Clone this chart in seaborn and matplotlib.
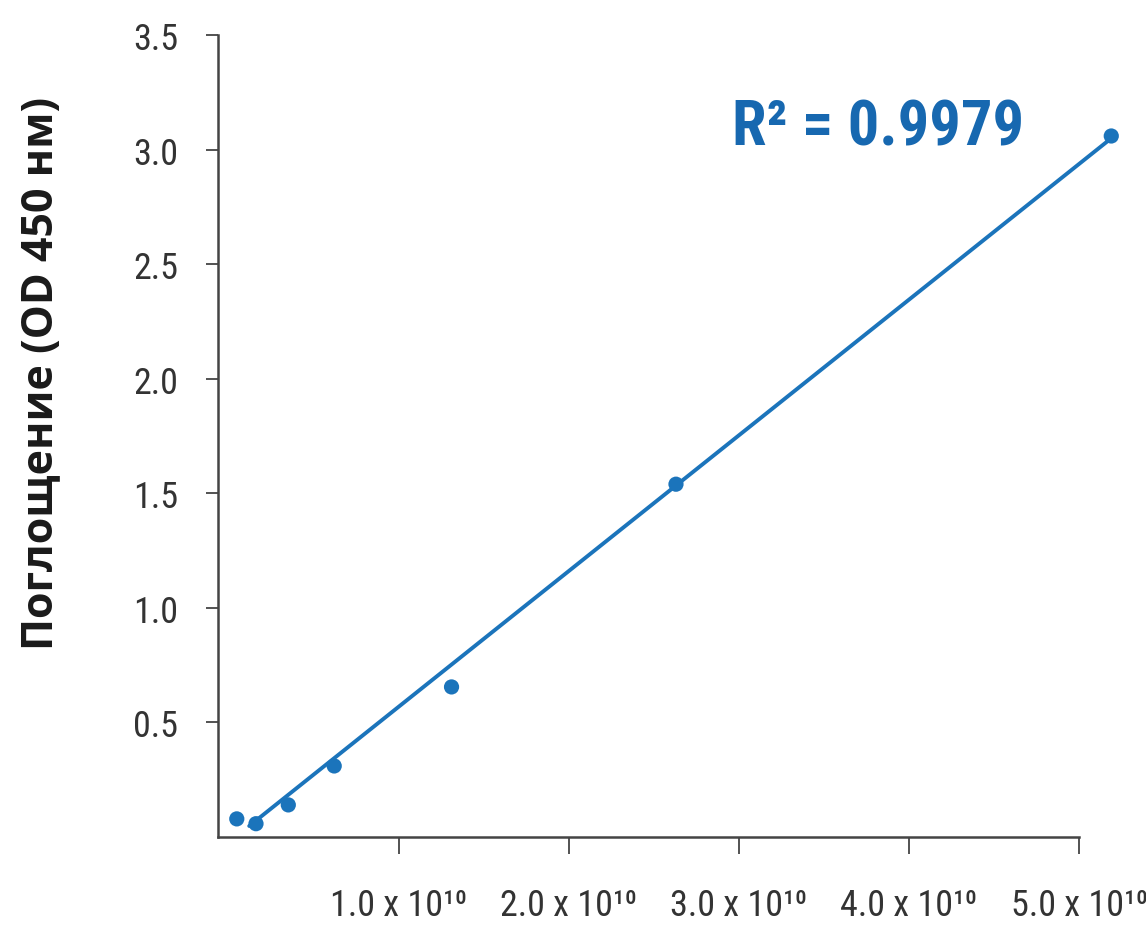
import matplotlib
matplotlib.use("Agg")
import matplotlib.pyplot as plt
from matplotlib import font_manager
from matplotlib.font_manager import FontProperties
import seaborn as sns
import pandas as pd

# Standard curve: concentration vs absorbance
conc = [0.047e10, 0.16e10, 0.35e10, 0.62e10, 1.31e10, 2.63e10, 5.19e10]
od450 = [0.079, 0.058, 0.14, 0.31, 0.655, 1.54, 3.06]

# fitted line ends
fit_x = [0.12e10, 5.19e10]
fit_y = [0.048, 3.05]

x_ticks = [1.0e10, 2.0e10, 3.0e10, 4.0e10, 5.0e10]
x_tick_labels = ["1.0 x 10¹⁰", "2.0 x 10¹⁰", "3.0 x 10¹⁰", "4.0 x 10¹⁰", "5.0 x 10¹⁰"]
y_ticks = [0.5, 1.0, 1.5, 2.0, 2.5, 3.0, 3.5]
y_tick_labels = ["0.5", "1.0", "1.5", "2.0", "2.5", "3.0", "3.5"]

r2_text = "R² = 0.9979"
y_label = "Поглощение (OD 450 нм)"

BLUE = "#1b74bb"
TEXT_BLUE = "#1768b0"


def pick_condensed():
    # look for a narrow / condensed face among installed fonts
    narrow_stretch = ("condensed", "semi-condensed", "extra-condensed", "ultra-condensed")
    entries = [f for f in font_manager.fontManager.ttflist
               if str(f.stretch) in narrow_stretch or "Condensed" in f.name or "Narrow" in f.name]
    prefs = ["Roboto Condensed", "Liberation Sans Narrow", "Open Sans Condensed",
             "Noto Sans Condensed", "Noto Sans", "DejaVu Sans Condensed", "DejaVu Sans"]
    for p in prefs:
        for f in entries:
            if f.name == p:
                return f.name, str(f.stretch)
    if entries:
        return entries[0].name, str(entries[0].stretch)
    return "DejaVu Sans", "normal"


sns.set_style("white")
cond_name, cond_stretch = pick_condensed()
plt.rcParams["font.family"] = [cond_name, "DejaVu Sans"]

df = pd.DataFrame({"conc": conc, "od": od450})
fit_df = pd.DataFrame({"x": fit_x, "y": fit_y})

fig = plt.figure(figsize=(11.46, 9.28), dpi=100)
ax = fig.add_axes([0.190, 0.097, 0.7515, 0.864])

sns.lineplot(data=fit_df, x="x", y="y", ax=ax, color=BLUE, linewidth=2.8, clip_on=False)
sns.scatterplot(data=df, x="conc", y="od", ax=ax, color=BLUE, s=120,
                edgecolor="none", clip_on=False, zorder=3)

ax.set_xlim(-0.065e10, 5.0e10)
ax.set_ylim(0, 3.5)

ax.set_xticks(x_ticks)
ax.set_xticklabels(x_tick_labels)
ax.set_yticks(y_ticks)
ax.set_yticklabels(y_tick_labels)

for side in ["top", "right"]:
    ax.spines[side].set_visible(False)
for side in ["left", "bottom"]:
    ax.spines[side].set_color("#444444")
    ax.spines[side].set_linewidth(1.8)

ax.tick_params(axis="x", direction="out", length=12, width=1.3, color="#444444",
               pad=24, labelcolor="#333333", bottom=True)
ax.tick_params(axis="y", direction="out", length=8.5, width=1.3, color="#444444",
               pad=20, labelcolor="#333333", left=True)

tick_font = FontProperties(family=[cond_name, "DejaVu Sans"], stretch=cond_stretch, size=26)
for lab in ax.get_xticklabels() + ax.get_yticklabels():
    lab.set_fontproperties(tick_font)

ax.set_xlabel("")
ax.set_ylabel(y_label, fontsize=31, fontweight="bold", color="#1a1a1a",
              family=["Open Sans", "DejaVu Sans"])
ax.yaxis.set_label_coords(-0.181, 0.58)

r2_font = FontProperties(family=[cond_name, "DejaVu Sans"], stretch=cond_stretch,
                         weight="bold", size=45)
ax.text(0.597, 0.864, r2_text, transform=ax.transAxes, fontproperties=r2_font,
        color=TEXT_BLUE, ha="left", va="baseline")

fig.savefig("out.png", dpi=100)
